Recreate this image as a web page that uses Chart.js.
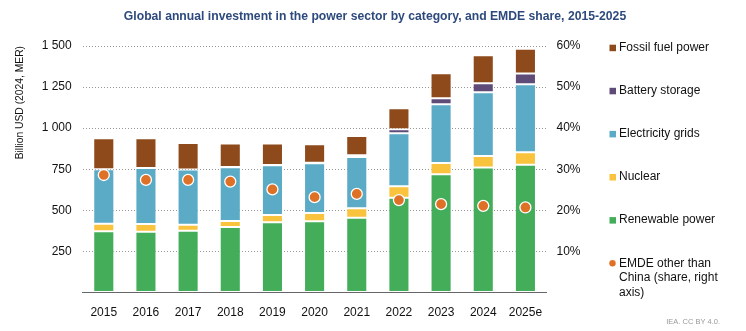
<!DOCTYPE html>
<html>
<head>
<meta charset="utf-8">
<script src="https://cdn.jsdelivr.net/npm/chart.js@4.4.1/dist/chart.umd.min.js"></script>
<style>
  html, body { margin: 0; padding: 0; background: #fff; }
  #wrap { width: 746px; height: 331px; position: relative; }
</style>
</head>
<body>
<div id="wrap"><canvas id="powerChart"></canvas></div>
<script>
// values (billion USD, 2024 MER)
const years = ['2015', '2016', '2017', '2018', '2019', '2020', '2021', '2022', '2023', '2024', '2025e'];
const renewable = [372, 370, 376, 399, 427, 433, 455, 577, 719, 760, 778];
const nuclear   = [47, 47, 37, 36, 45, 51, 57, 69, 69, 71, 75];
const grids     = [331, 341, 335, 327, 302, 302, 313, 323, 357, 387, 414];
const battery   = [0, 0, 0, 1, 2, 4, 10, 24, 37, 55, 65];
const fossil    = [188, 180, 162, 144, 130, 112, 117, 128, 152, 170, 152];
// EMDE other than China, share of total (%, right axis)
const emdeShare = [28.6, 27.4, 27.4, 27.0, 25.1, 23.2, 24.0, 22.5, 21.5, 21.1, 20.7];

const leftTicks = [250, 500, 750, 1000, 1250, 1500];
const rightTicks = [10, 20, 30, 40, 50, 60];

const chartTitle = 'Global annual investment in the power sector by category, and EMDE share, 2015-2025';
const FONT = 'Arial, "Liberation Sans", sans-serif';

const colors = {
    renewable: '#43ad5a',
    nuclear: '#f9c33d',
    grids: '#5babc6',
    battery: '#5e4b78',
    fossil: '#8e4a1b',
    emde: '#df7127'
};

function fmtThousands(v) {
    return String(v).replace(/\B(?=(\d{3})+(?!\d))/g, ' ');
}

// title, legend on the right and source note, drawn by hand so spacing matches
const sideLegend = {
    id: 'sideLegend',
    afterDraw(chart) {
        const ctx = chart.ctx;
        ctx.save();

        ctx.font = 'bold 12.2px ' + FONT;
        ctx.fillStyle = '#2e4a7d';
        ctx.textAlign = 'center';
        ctx.textBaseline = 'middle';
        ctx.fillText(chartTitle, 375, 17);

        const x0 = chart.chartArea.right + 63;
        const top = 47.7;
        const step = 43.1;
        const entries = [
            { label: ['Fossil fuel power'], color: colors.fossil },
            { label: ['Battery storage'], color: colors.battery },
            { label: ['Electricity grids'], color: colors.grids },
            { label: ['Nuclear'], color: colors.nuclear },
            { label: ['Renewable power'], color: colors.renewable },
            { label: ['EMDE other than', 'China (share, right', 'axis)'], color: colors.emde, dot: true }
        ];
        ctx.font = '12px ' + FONT;
        ctx.textAlign = 'left';
        entries.forEach((e, i) => {
            const y = top + i * step;
            ctx.fillStyle = e.color;
            if (e.dot) {
                ctx.beginPath();
                ctx.arc(x0 + 3, y, 3.2, 0, Math.PI * 2);
                ctx.fill();
            } else {
                ctx.fillRect(x0, y - 3, 6.5, 6.5);
            }
            ctx.fillStyle = '#111';
            e.label.forEach((line, j) => {
                ctx.fillText(line, x0 + 9.5, y + j * 14.8);
            });
        });

        ctx.font = '7.5px ' + FONT;
        ctx.fillStyle = '#999';
        ctx.textAlign = 'right';
        ctx.fillText('IEA. CC BY 4.0.', 720, 322);
        ctx.restore();
    }
};

const barBase = {
    type: 'bar',
    stack: 'power',
    borderColor: 'rgba(255,255,255,0.45)',
    borderWidth: 1,
    borderSkipped: false,
    barPercentage: 0.5,
    categoryPercentage: 1.0,
    order: 2
};

const ctx = document.getElementById('powerChart').getContext('2d');
new Chart(ctx, {
    data: {
        labels: years,
        datasets: [
            { ...barBase, label: 'Renewable power', data: renewable, backgroundColor: colors.renewable },
            { ...barBase, label: 'Nuclear', data: nuclear, backgroundColor: colors.nuclear },
            { ...barBase, label: 'Electricity grids', data: grids, backgroundColor: colors.grids },
            { ...barBase, label: 'Battery storage', data: battery, backgroundColor: colors.battery },
            { ...barBase, label: 'Fossil fuel power', data: fossil, backgroundColor: colors.fossil },
            {
                type: 'line',
                label: 'EMDE other than China (share, right axis)',
                data: emdeShare,
                yAxisID: 'y1',
                showLine: false,
                pointRadius: 5.5,
                pointHoverRadius: 5.5,
                pointBackgroundColor: colors.emde,
                pointBorderColor: '#ffffff',
                pointBorderWidth: 1.3,
                order: 0
            }
        ]
    },
    options: {
        responsive: true,
        maintainAspectRatio: false,
        animation: false,
        layout: { padding: { left: 0, right: 144.5, top: 46, bottom: 0 } },
        plugins: {
            legend: { display: false },
            tooltip: { enabled: false },
            title: { display: false }
        },
        scales: {
            x: {
                stacked: true,
                grid: { display: false },
                border: { display: true, color: '#666', width: 1 },
                ticks: { color: '#111', font: { family: FONT, size: 12 }, padding: 5, maxRotation: 0 },
                afterFit: s => { s.height = 38.5; }
            },
            y: {
                stacked: true,
                min: 0,
                max: 1500,
                border: { display: false, dash: [1, 2] },
                grid: {
                    color: ctx => ctx.tick.value === 0 ? 'rgba(0,0,0,0)' : '#999',
                    lineWidth: 1,
                    drawTicks: false
                },
                afterBuildTicks: s => { s.ticks = [0, ...leftTicks].map(v => ({ value: v })); },
                ticks: {
                    color: '#111',
                    padding: 11,
                    font: { family: FONT, size: 12 },
                    callback: v => v === 0 ? '' : fmtThousands(v)
                },
                title: {
                    display: true,
                    text: 'Billion USD (2024, MER)',
                    align: 'end',
                    color: '#111',
                    font: { family: FONT, size: 10.3 },
                    padding: { top: 14, bottom: 0 }
                },
                afterFit: s => { s.width = 82.7; }
            },
            y1: {
                position: 'right',
                min: 0,
                max: 60,
                border: { display: false },
                grid: { display: false, drawTicks: false },
                afterBuildTicks: s => { s.ticks = [0, ...rightTicks].map(v => ({ value: v })); },
                ticks: {
                    color: '#111',
                    padding: 10,
                    font: { family: FONT, size: 12 },
                    callback: v => v === 0 ? '' : v + '%'
                },
                afterFit: s => { s.width = 55; }
            }
        }
    },
    plugins: [sideLegend]
});
</script>
</body>
</html>
